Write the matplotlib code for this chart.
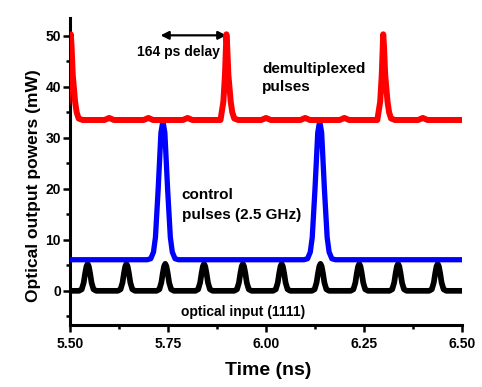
import numpy as np
import matplotlib
matplotlib.use("Agg")
import matplotlib.pyplot as plt

plt.rcParams['font.family'] = ['Liberation Sans', 'DejaVu Sans']
plt.rcParams['font.weight'] = 'bold'

# ---- data ----
x_ticks = [5.50, 5.75, 6.00, 6.25, 6.50]
x_tick_labels = ["5.50", "5.75", "6.00", "6.25", "6.50"]
y_ticks = [0, 10, 20, 30, 40, 50]

# optical input (1111): 10 GHz pulse train
input_peaks = [5.545, 5.644, 5.743, 5.842, 5.941, 6.040, 6.139, 6.238, 6.337, 6.438]
input_base = 0.0
input_profile_dt = [-0.022, -0.015, -0.010, -0.0062, -0.003, 0.0, 0.003, 0.0062, 0.010, 0.015, 0.022]
input_profile_y = [0.0, 0.3, 1.6, 3.5, 4.8, 5.3, 4.8, 3.5, 1.6, 0.3, 0.0]

# control pulses (2.5 GHz)
control_peaks = [5.737, 6.137]
control_base = 6.1
control_profile_dt = [-0.040, -0.031, -0.024, -0.019, -0.012, -0.005, 0.0,
                      0.005, 0.012, 0.019, 0.024, 0.031, 0.040]
control_profile_y = [6.1, 6.3, 7.6, 10.5, 20.0, 31.0, 33.3,
                     31.0, 20.0, 10.5, 7.6, 6.3, 6.1]

# demultiplexed pulses
demux_peaks = [5.502, 5.899, 6.299]
demux_base = 33.5
demux_profile_dt = [-0.015, -0.0077, -0.0036, -0.0015, 0.0, 0.002, 0.005, 0.011, 0.015, 0.020, 0.030]
demux_profile_y = [33.5, 37.1, 42.4, 47.0, 50.3, 48.0, 42.4, 37.1, 35.0, 33.8, 33.5]
# small residual bumps on the demultiplexed baseline
bump_centres = [5.60, 5.70, 5.80, 6.00, 6.10, 6.20, 6.40]
bump_profile_dt = [-0.012, 0.0, 0.012]
bump_profile_y = [33.5, 33.9, 33.5]

t_start, t_end = 5.46, 6.54


def build(peaks, dts, ys, base, extra=None):
    segs = [(t_start, base), (t_end, base)]
    for p in peaks:
        segs += [(p + d, y) for d, y in zip(dts, ys)]
    if extra is not None:
        cs, edts, eys = extra
        for c in cs:
            segs += [(c + d, y) for d, y in zip(edts, eys)]
    segs.sort()
    return [s[0] for s in segs], [s[1] for s in segs]


fig = plt.figure(figsize=(4.82, 3.87), dpi=100)
ax = fig.add_axes([0.1452, 0.1602, 0.8133, 0.7933])

tx, ty = build(input_peaks, input_profile_dt, input_profile_y, input_base)
ax.plot(tx, ty, color='black', lw=4.1, solid_joinstyle='round', solid_capstyle='round', zorder=2)
tx, ty = build(control_peaks, control_profile_dt, control_profile_y, control_base)
ax.plot(tx, ty, color='#0000ff', lw=3.8, solid_joinstyle='round', solid_capstyle='round', zorder=3)
tx, ty = build(demux_peaks, demux_profile_dt, demux_profile_y, demux_base,
               extra=(bump_centres, bump_profile_dt, bump_profile_y))
ax.plot(tx, ty, color='#ff0000', lw=4.3, solid_joinstyle='round', solid_capstyle='round', zorder=4)

ax.set_xlim(5.5, 6.5)
ax.set_ylim(-6.7, 53.5)

ax.set_xticks(x_ticks)
ax.set_xticklabels(x_tick_labels)
ax.set_xticks([5.625, 5.875, 6.125, 6.375], minor=True)
ax.set_yticks(y_ticks)
ax.set_yticks([-5, 5, 15, 25, 35, 45], minor=True)

for s in ['top', 'right']:
    ax.spines[s].set_visible(False)
for s in ['left', 'bottom']:
    ax.spines[s].set_linewidth(2.2)

ax.tick_params(which='major', direction='out', length=5, width=1.8, labelsize=10)
ax.tick_params(which='minor', direction='out', length=3, width=1.8)
ax.tick_params(axis='y', pad=1.5)
ax.tick_params(axis='x', pad=3.5)
for lab in ax.get_xticklabels() + ax.get_yticklabels():
    lab.set_fontweight('bold')

ax.set_xlabel("Time (ns)", fontsize=14, fontweight='bold')
ax.xaxis.set_label_coords(0.505, -0.12)
ax.set_ylabel("Optical output powers (mW)", fontsize=12.5, fontweight='bold')
ax.yaxis.set_label_coords(-0.073, 0.455)

ax.annotate("", xy=(5.731, 50.1), xytext=(5.899, 50.1),
            arrowprops=dict(arrowstyle='<|-|>', color='black', lw=1.6,
                            mutation_scale=12, shrinkA=0, shrinkB=0))
ax.text(5.776, 46.9, "164 ps delay", ha='center', va='center', fontsize=10, fontweight='bold')
ax.text(5.99, 41.7, "demultiplexed\npulses", ha='left', va='center', fontsize=11,
        fontweight='bold', linespacing=1.4)
ax.text(5.785, 16.8, "control\npulses (2.5 GHz)", ha='left', va='center', fontsize=11,
        fontweight='bold', linespacing=1.6)
ax.text(5.941, -4.06, "optical input (1111)", ha='center', va='center', fontsize=10,
        fontweight='bold')

fig.savefig("out.png", dpi=100)
